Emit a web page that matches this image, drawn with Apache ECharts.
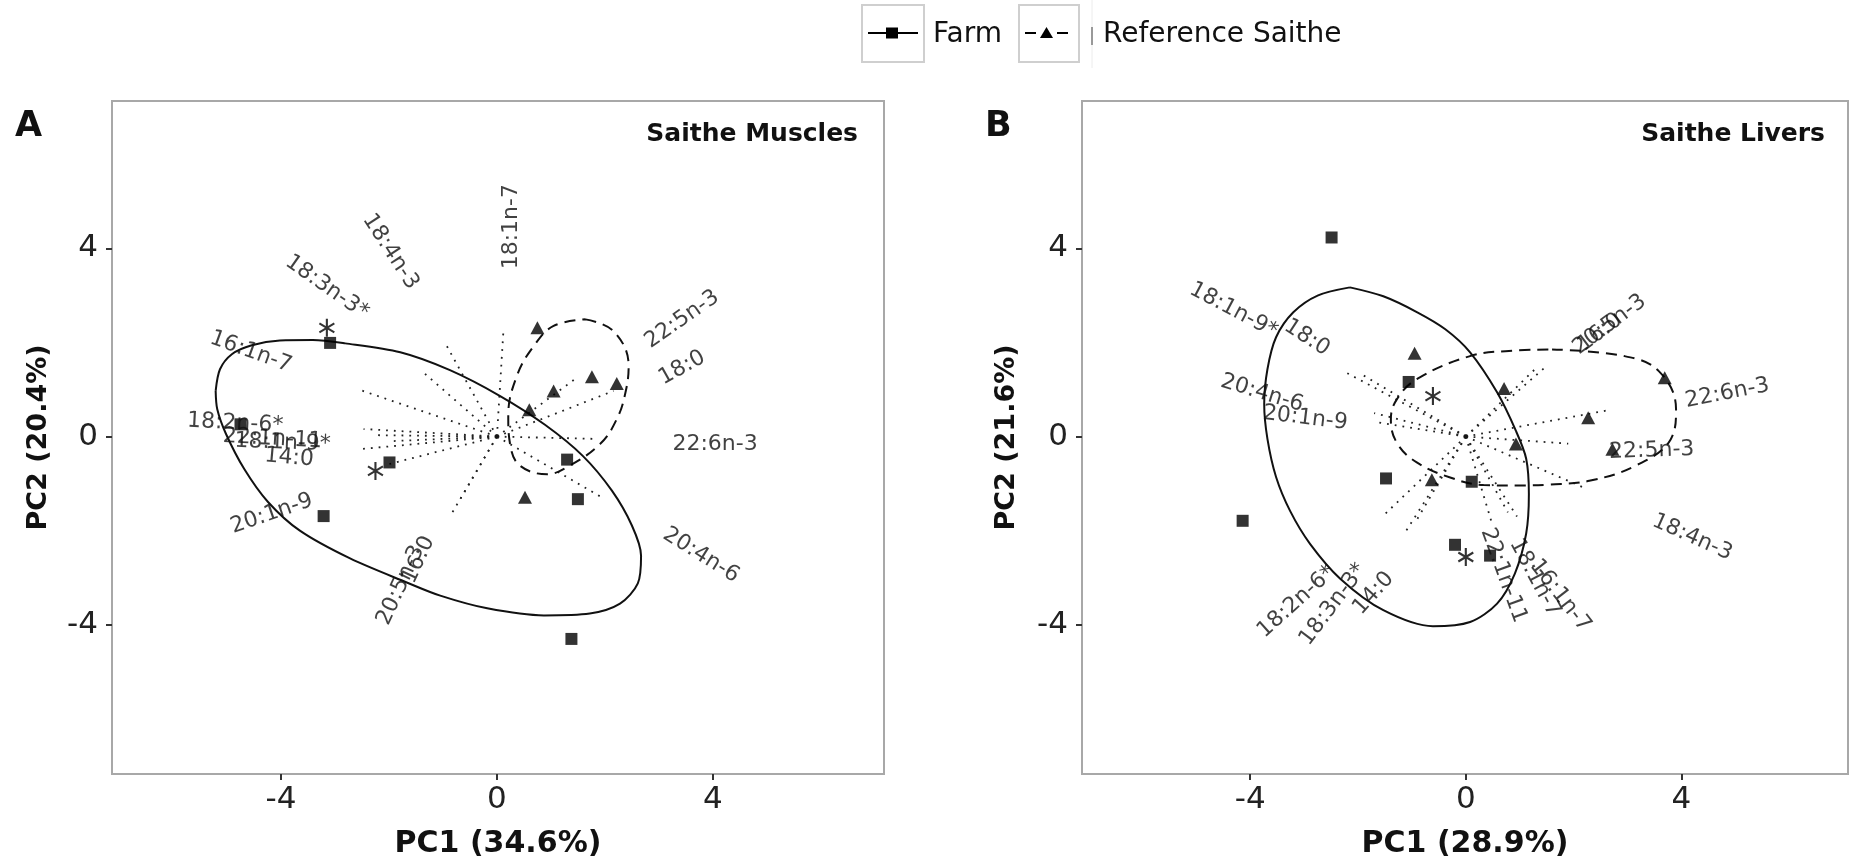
<!DOCTYPE html>
<html><head><meta charset="utf-8">
<script src="https://cdn.jsdelivr.net/npm/echarts@6/dist/echarts.min.js"></script>
<style>html,body{margin:0;padding:0;background:#fff}#c{width:1849px;height:864px}</style>
</head><body><div id="c"></div>
<script>
// ---------- tick values ----------
const xTicks = [-4, 0, 4];
const yTicks = [-4, 0, 4];

// ---------- legend ----------
const groups = ['Farm', 'Reference Saithe'];

// ---------- Panel A : Saithe Muscles ----------
const titleA = 'Saithe Muscles';
const xNameA = 'PC1 (34.6%)';
const yNameA = 'PC2 (20.4%)';
const farmA = [[-3.09,1.99],[-1.99,-0.55],[1.30,-0.49],[1.50,-1.33],[-3.21,-1.69],[-4.75,0.26],[1.38,-4.30]];
const refA = [[0.75,2.31],[1.05,0.97],[1.76,1.27],[2.22,1.13],[0.60,0.57],[0.52,-1.29]];
const starA = [[-3.15,2.31],[-2.25,-0.73]];
const ellipseFarmA = [[-5.21,0.97],[-5.13,1.43],[-4.91,1.75],[-4.54,1.94],[-4.02,2.04],[-3.41,2.05],[-2.81,1.98],[-1.79,1.79],[-0.87,1.41],[0.06,0.86],[0.89,0.25],[1.59,-0.41],[2.13,-1.15],[2.50,-1.89],[2.67,-2.53],[2.61,-3.12],[2.28,-3.55],[1.72,-3.76],[0.87,-3.80],[-0.18,-3.65],[-1.05,-3.38],[-1.67,-3.10],[-2.72,-2.59],[-3.65,-2.00],[-4.24,-1.39],[-4.68,-0.69],[-5.02,0.06],[-5.18,0.58],[-5.21,0.97]];
const ellipseRefA = [[1.64,2.49],[2.16,2.24],[2.44,1.50],[2.38,0.93],[2.22,0.37],[1.91,-0.16],[1.30,-0.65],[0.93,-0.80],[0.43,-0.62],[0.25,-0.20],[0.21,0.44],[0.37,1.29],[0.68,1.92],[1.05,2.35],[1.64,2.49]];
const acidsA = ['18:1n-7','18:4n-3','18:3n-3*','16:1n-7','18:2n-6*','22:1n-11','18:1n-9*','14:0','20:1n-9','20:5n-3','16:0','20:4n-6','22:6n-3','18:0','22:5n-3'];
const loadingsA = [[0.12,2.24],[-0.96,1.99],[-1.36,1.36],[-2.56,1.0],[-2.47,0.16],[-2.3,0.03],[-2.56,-0.27],[-2.0,-0.1],[-2.05,-0.6],[-0.86,-1.68],[-0.68,-1.33],[1.94,-1.29],[1.85,-0.05],[2.16,0.97],[1.48,1.25]];
const labelPosA = [[0.26,4.46],[-1.97,3.93],[-3.15,3.17],[-4.56,1.80],[-4.85,0.28],[-4.16,-0.05],[-3.97,-0.13],[-3.85,-0.45],[-4.17,-1.64],[-1.78,-3.16],[-1.45,-2.62],[3.78,-2.52],[4.04,-0.16],[3.43,1.46],[3.43,2.49]];
const labelAngleA = [90,-57,-35,-20,-3,-3,-2,-5,19,65,65,-32,0,29,35];

// ---------- Panel B : Saithe Livers ----------
const titleB = 'Saithe Livers';
const xNameB = 'PC1 (28.9%)';
const yNameB = 'PC2 (21.6%)';
const farmB = [[-2.49,4.23],[-1.06,1.16],[-1.48,-0.89],[0.11,-0.96],[-4.14,-1.79],[-0.20,-2.30],[0.45,-2.53]];
const refB = [[-0.95,1.77],[0.71,1.02],[0.93,-0.16],[-0.63,-0.92],[2.27,0.40],[2.72,-0.27],[3.69,1.25]];
const starB = [[-0.61,0.86],[0.0,-2.56]];
const ellipseFarmB = [[-2.15,3.17],[-2.74,3.00],[-3.20,2.64],[-3.52,2.11],[-3.68,1.43],[-3.74,0.69],[-3.68,-0.05],[-3.52,-0.86],[-3.26,-1.58],[-2.89,-2.28],[-2.33,-3.02],[-1.53,-3.69],[-0.61,-4.03],[0.08,-3.94],[0.58,-3.55],[0.91,-2.91],[1.12,-2.06],[1.17,-1.22],[1.12,-0.47],[0.93,0.12],[0.58,0.94],[0.08,1.79],[-0.38,2.28],[-0.90,2.64],[-1.53,2.98],[-2.15,3.17]];
const ellipseRefB = [[1.6,1.85],[2.94,1.71],[3.58,1.39],[3.9,0.58],[3.80,-0.06],[3.15,-0.62],[2.29,-0.94],[1.56,-1.02],[0.95,-1.04],[0.33,-1.03],[-0.29,-0.87],[-0.91,-0.55],[-1.28,-0.13],[-1.39,0.37],[-1.28,0.79],[-0.91,1.22],[0.08,1.71],[0.8,1.82],[1.6,1.85]];
const acidsB = ['18:1n-9*','18:0','20:4n-6','20:1n-9','16:0','20:5n-3','22:6n-3','22:5n-3','18:4n-3','16:1n-7','18:1n-7','22:1n-11','14:0','18:3n-3*','18:2n-6*'];
const loadingsB = [[-2.27,1.39],[-1.9,1.3],[-1.7,0.5],[-1.62,0.3],[1.3,1.45],[1.5,1.5],[2.6,0.55],[1.9,-0.15],[2.24,-1.11],[0.95,-1.7],[0.78,-1.61],[0.5,-1.9],[-0.95,-1.85],[-1.16,-2.10],[-1.53,-1.68]];
const labelPosB = [[-4.31,2.68],[-2.95,2.10],[-3.78,0.92],[-2.98,0.39],[2.49,2.21],[2.67,2.38],[4.85,0.92],[3.45,-0.30],[4.20,-2.14],[1.75,-3.38],[1.28,-3.0],[0.70,-2.95],[-1.71,-3.33],[-2.46,-3.57],[-3.14,-3.51]];
const labelAngleB = [-28,-33,-17,-7,37,37,11,2,-24,-52,-62,-70,48,53,42];

// ---------- build ----------
const FONT = 'DejaVu Sans';
const INK = '#111';
const ASTERISK = 'path://M8.9,1L11.1,1L11.1,19L8.9,19Z M1.66,6.45L2.76,4.55L18.34,13.55L17.24,15.45Z M1.66,13.55L17.24,4.55L18.34,6.45L2.76,15.45Z';

function panel(i, farm, ref, star, ellF, ellR, acids, loads, lpos, langs) {
  const ax = {xAxisIndex: i, yAxisIndex: i, animation: false, silent: true};
  return [
    Object.assign({type: 'line', data: ellF, smooth: 0.3, symbol: 'none',
      lineStyle: {color: INK, width: 2}, z: 3}, ax),
    Object.assign({type: 'line', data: ellR, smooth: 0.4, symbol: 'none',
      lineStyle: {color: INK, width: 2, type: [11, 7]}, z: 3}, ax),
    Object.assign({type: 'lines', coordinateSystem: 'cartesian2d',
      data: loads.map(p => ({coords: [[0, 0], p]})),
      symbol: ['none', 'none'],
      lineStyle: {color: '#222', width: 1.8, type: [1.8, 6], opacity: 1}, z: 2}, ax),
    Object.assign({type: 'scatter', data: [[0, 0]], symbol: 'circle', symbolSize: 5,
      itemStyle: {color: INK}, z: 4}, ax),
    Object.assign({type: 'scatter', data: farm, symbol: 'rect', symbolSize: 12,
      itemStyle: {color: '#000'}, z: 5}, ax),
    Object.assign({type: 'scatter', data: ref, symbol: 'triangle', symbolSize: [14, 13],
      itemStyle: {color: '#000'}, z: 5}, ax),
    Object.assign({type: 'scatter', data: star, symbol: ASTERISK, symbolSize: [16, 18],
      itemStyle: {color: '#000'}, z: 5}, ax),
    Object.assign({type: 'scatter', symbolSize: 1, itemStyle: {color: 'transparent'},
      data: lpos.map((p, k) => ({value: p, name: acids[k], label: {rotate: langs[k]}})),
      label: {show: true, position: 'inside', formatter: '{b}', fontFamily: FONT,
        fontSize: 22, color: '#111', align: 'center', verticalAlign: 'middle'}, z: 6}, ax)
  ];
}

function xAxis(i, min, max, name) {
  return {gridIndex: i, type: 'value', min: min, max: max,
    axisLine: {show: false, onZero: false}, splitLine: {show: false},
    axisTick: {show: true, length: 6, lineStyle: {color: '#333', width: 2}, customValues: xTicks},
    axisLabel: {customValues: xTicks, fontFamily: FONT, fontSize: 31, color: '#222', margin: 10},
    name: name, nameLocation: 'middle', nameGap: 55,
    nameTextStyle: {fontFamily: FONT, fontSize: 30, fontWeight: 'bold', color: INK}};
}
function yAxis(i, name, gap) {
  return {gridIndex: i, type: 'value', min: -7.17, max: 7.13,
    axisLine: {show: false, onZero: false}, splitLine: {show: false},
    axisTick: {show: true, length: 6, lineStyle: {color: '#333', width: 2}, customValues: yTicks},
    axisLabel: {customValues: yTicks, fontFamily: FONT, fontSize: 31, color: '#222', margin: 14},
    name: name, nameLocation: 'middle', nameGap: gap, nameRotate: 90,
    nameTextStyle: {fontFamily: FONT, fontSize: 27, fontWeight: 'bold', color: INK}};
}

const legendGraphics = [
  {type: 'rect', shape: {x: 862, y: 5, width: 62, height: 57}, style: {fill: 'none', stroke: '#cfcfcf', lineWidth: 2}},
  {type: 'line', shape: {x1: 868, y1: 33, x2: 918, y2: 33}, style: {stroke: '#000', lineWidth: 2}},
  {type: 'rect', shape: {x: 886, y: 27.5, width: 12, height: 11}, style: {fill: '#000'}},
  {type: 'text', x: 933, y: 35, style: {text: groups[0], font: '28px "DejaVu Sans"', fill: INK, verticalAlign: 'middle'}},
  {type: 'rect', shape: {x: 1019, y: 5, width: 60, height: 57}, style: {fill: 'none', stroke: '#cfcfcf', lineWidth: 2}},
  {type: 'line', shape: {x1: 1025, y1: 33, x2: 1036, y2: 33}, style: {stroke: '#000', lineWidth: 2}},
  {type: 'line', shape: {x1: 1057, y1: 33, x2: 1068, y2: 33}, style: {stroke: '#000', lineWidth: 2}},
  {type: 'polygon', shape: {points: [[1040, 38], [1053, 38], [1046.5, 27]]}, style: {fill: '#000'}},
  {type: 'line', shape: {x1: 1092, y1: 0, x2: 1092, y2: 68}, style: {stroke: '#ececec', lineWidth: 1}},
  {type: 'line', shape: {x1: 1092, y1: 27, x2: 1092, y2: 45}, style: {stroke: '#999', lineWidth: 2}},
  {type: 'text', x: 1103, y: 35, style: {text: groups[1], font: '28px "DejaVu Sans"', fill: INK, verticalAlign: 'middle'}}
];

const chart = echarts.init(document.getElementById('c'));
chart.setOption({
  animation: false,
  backgroundColor: '#fff',
  grid: [
    {left: 112, top: 101, width: 772, height: 675, show: true, borderColor: '#a8a8a8', borderWidth: 2},
    {left: 1082, top: 101, width: 766, height: 675, show: true, borderColor: '#a8a8a8', borderWidth: 2}
  ],
  xAxis: [xAxis(0, -7.13, 7.17, xNameA), xAxis(1, -7.12, 7.09, xNameB)],
  yAxis: [yAxis(0, yNameA, 60), yAxis(1, yNameB, 62)],
  series: [].concat(
    panel(0, farmA, refA, starA, ellipseFarmA, ellipseRefA, acidsA, loadingsA, labelPosA, labelAngleA),
    panel(1, farmB, refB, starB, ellipseFarmB, ellipseRefB, acidsB, loadingsB, labelPosB, labelAngleB)
  ),
  graphic: [
    {type: 'text', x: 15, y: 127, style: {text: 'A', font: 'bold 35px "DejaVu Sans"', fill: INK, verticalAlign: 'middle'}},
    {type: 'text', x: 985, y: 127, style: {text: 'B', font: 'bold 35px "DejaVu Sans"', fill: INK, verticalAlign: 'middle'}},
    {type: 'text', x: 858, y: 134, style: {text: titleA, font: 'bold 25px "DejaVu Sans"', fill: INK, align: 'right', verticalAlign: 'middle'}},
    {type: 'text', x: 1825, y: 134, style: {text: titleB, font: 'bold 25px "DejaVu Sans"', fill: INK, align: 'right', verticalAlign: 'middle'}}
  ].concat(legendGraphics)
});
</script></body></html>
